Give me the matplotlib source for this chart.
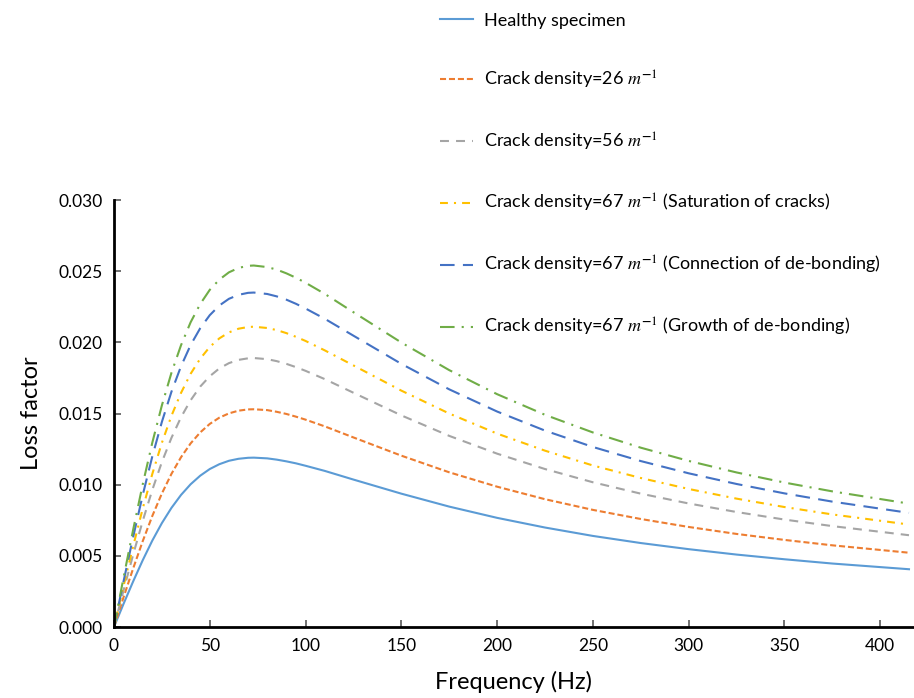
import matplotlib.pyplot as plt

plt.rcParams['font.family'] = ['Lato', 'DejaVu Sans']
plt.rcParams['mathtext.fontset'] = 'stix'

# Frequency (Hz) and loss factor values
freq = [0, 5, 10, 15, 20, 25, 30, 35, 40, 45, 50, 55, 60, 65, 70, 73, 80, 85,
        90, 95, 100, 110, 125, 150, 175, 200, 225, 250, 275, 300, 325, 350,
        375, 415]

healthy = [0, .00163, .00320, .00469, .00607, .00730, .00837, .00928, .01003,
           .01063, .01110, .01144, .01168, .01182, .01189, .01190, .01185,
           .01176, .01164, .01150, .01133, .01097, .01036, .00937, .00846,
           .00767, .00699, .00640, .00590, .00547, .00509, .00476, .00446,
           .00406]
crack_26 = [0, .00209, .00411, .00603, .00780, .00938, .01076, .01193, .01290,
            .01367, .01427, .01471, .01501, .01520, .01529, .01530, .01524,
            .01512, .01497, .01478, .01457, .01410, .01332, .01204, .01087,
            .00986, .00898, .00823, .00759, .00703, .00654, .00612, .00574,
            .00522]
crack_56 = [0, .00258, .00508, .00745, .00963, .01159, .01329, .01474, .01593,
            .01689, .01762, .01817, .01854, .01877, .01888, .01890, .01882,
            .01868, .01849, .01826, .01800, .01742, .01646, .01487, .01343,
            .01218, .01110, .01017, .00937, .00868, .00808, .00755, .00709,
            .00645]
crack_67_sat = [0, .00288, .00567, .00832, .01075, .01294, .01484, .01645,
                .01779, .01885, .01968, .02028, .02070, .02096, .02108, .02110,
                .02101, .02086, .02065, .02039, .02010, .01944, .01838, .01661,
                .01500, .01359, .01239, .01135, .01047, .00970, .00902, .00843,
                .00791, .00720]
crack_67_conn = [0, .00321, .00632, .00927, .01198, .01441, .01653, .01832,
                 .01981, .02099, .02191, .02259, .02306, .02334, .02348, .02350,
                 .02340, .02323, .02300, .02271, .02238, .02166, .02047, .01849,
                 .01670, .01514, .01380, .01265, .01166, .01080, .01005, .00939,
                 .00881, .00802]
crack_67_growth = [0, .00347, .00683, .01002, .01295, .01557, .01786, .01980,
                   .02141, .02269, .02369, .02441, .02492, .02523, .02538,
                   .02540, .02529, .02511, .02485, .02454, .02419, .02341,
                   .02212, .01999, .01805, .01636, .01491, .01367, .01260,
                   .01167, .01086, .01015, .00953, .00867]

labels = [
    'Healthy specimen',
    r'Crack density=26 $m^{\mathbf{-}1}$',
    r'Crack density=56 $m^{\mathbf{-}1}$',
    r'Crack density=67 $m^{\mathbf{-}1}$ (Saturation of cracks)',
    r'Crack density=67 $m^{\mathbf{-}1}$ (Connection of de-bonding)',
    r'Crack density=67 $m^{\mathbf{-}1}$ (Growth of de-bonding)',
]
series = [healthy, crack_26, crack_56, crack_67_sat, crack_67_conn, crack_67_growth]
colors = ['#5B9BD5', '#ED7D31', '#A5A5A5', '#FFC000', '#4472C4', '#70AD47']
dashes = [None, (2.9, 1.4), (4.3, 3.4), (3.8, 2.9, 1, 2.9), (7, 4), (7, 3.4, 1, 3.4)]

fig = plt.figure(figsize=(9.14, 6.98), dpi=100)
ax = fig.add_axes([0.1247, 0.1017, 0.874, 0.6117])

handles = []
for y, lab, c, d in zip(series, labels, colors, dashes):
    line, = ax.plot(freq, y, color=c, lw=1.5, label=lab)
    if d is not None:
        line.set_dashes(d)
    handles.append(line)

ax.set_xlim(0, 417)
ax.set_ylim(0, 0.030)
ax.set_xticks(range(0, 401, 50))
ax.set_yticks([0, 0.005, 0.010, 0.015, 0.020, 0.025, 0.030])
ax.set_yticklabels([f'{v:.3f}' for v in ax.get_yticks()])

for side in ['top', 'right']:
    ax.spines[side].set_visible(False)
for side in ['left', 'bottom']:
    ax.spines[side].set_linewidth(2)
ax.tick_params(direction='in', length=5, width=1.2, color='#595959',
               labelsize=12.5, pad=8)

ax.set_xlabel('Frequency (Hz)', fontsize=17, labelpad=12)
ax.set_ylabel('Loss factor', fontsize=17, labelpad=12)

fig.legend(handles=handles, loc='upper left', bbox_to_anchor=(0.464, 1.005),
           frameon=False, fontsize=13, handlelength=1.8, handletextpad=0.6,
           labelspacing=2.2)

fig.savefig('out.png', dpi=100)
